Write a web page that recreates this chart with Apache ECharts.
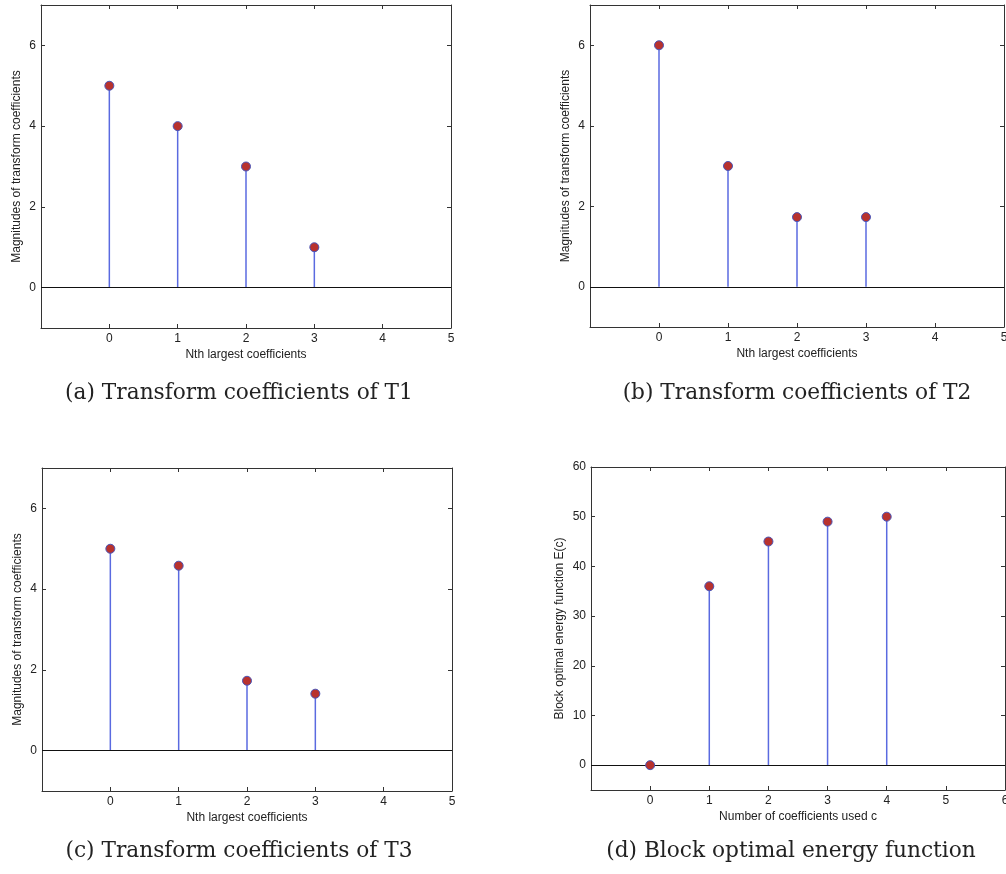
<!DOCTYPE html>
<html>
<head>
<meta charset="utf-8">
<script src="https://cdn.jsdelivr.net/npm/echarts@6/dist/echarts.min.js"></script>
<style>
  body { margin: 0; background: #fff; }
  #main { width: 1006px; height: 874px; }
</style>
</head>
<body>
<div id="main"></div>
<script>
var myChart = echarts.init(document.getElementById('main'));

// data
var xT = [0, 1, 2, 3];
var magT1 = [5, 4, 3, 1];
var magT2 = [6, 3, 1.73, 1.73];
var magT3 = [5, 4.58, 1.73, 1.41];
var xE = [0, 1, 2, 3, 4];
var energy = [0, 36, 45, 49, 50];

var xTicksT = [0, 1, 2, 3, 4, 5];
var yTicksT = [0, 2, 4, 6];
var xTicksE = [0, 1, 2, 3, 4, 5, 6];
var yTicksE = [0, 10, 20, 30, 40, 50, 60];

var captions = [
    '(a) Transform coefficients of T1',
    '(b) Transform coefficients of T2',
    '(c) Transform coefficients of T3',
    '(d) Block optimal energy function'
];

var panels = [
    {x: xT, y: magT1, xmin: -1, xmax: 5, ymin: -1, ymax: 7, xt: xTicksT, yt: yTicksT,
     xname: 'Nth largest coefficients', yname: 'Magnitudes of transform coefficients',
     grid: {left: 41, top: 5, width: 410, height: 323}},
    {x: xT, y: magT2, xmin: -1, xmax: 5, ymin: -1, ymax: 7, xt: xTicksT, yt: yTicksT,
     xname: 'Nth largest coefficients', yname: 'Magnitudes of transform coefficients',
     grid: {left: 590, top: 5, width: 414, height: 322}},
    {x: xT, y: magT3, xmin: -1, xmax: 5, ymin: -1, ymax: 7, xt: xTicksT, yt: yTicksT,
     xname: 'Nth largest coefficients', yname: 'Magnitudes of transform coefficients',
     grid: {left: 42, top: 468, width: 410, height: 323}},
    {x: xE, y: energy, xmin: -1, xmax: 6, ymin: -5, ymax: 60, xt: xTicksE, yt: yTicksE,
     xname: 'Number of coefficients used c', yname: 'Block optimal energy function E(c)',
     grid: {left: 591, top: 467, width: 414, height: 323}}
];

var grids = [], xAxes = [], yAxes = [], series = [];
var lab = {color: '#222', fontFamily: 'Liberation Sans', fontSize: 12};
var axLine = {show: true, onZero: false, lineStyle: {color: '#333', width: 1}};
var tick = function (vals) {
    return {inside: true, length: 4, customValues: vals, lineStyle: {color: '#333'}};
};

panels.forEach(function (p, i) {
    grids.push(Object.assign({outerBoundsMode: 'none'}, p.grid));
    var xi = xAxes.length, yi = yAxes.length;
    // bottom / top
    xAxes.push({
        type: 'value', gridIndex: i, position: 'bottom', min: p.xmin, max: p.xmax,
        name: p.xname, nameLocation: 'middle', nameGap: 21, nameTextStyle: lab,
        axisLine: axLine, splitLine: {show: false}, axisTick: tick(p.xt),
        axisLabel: Object.assign({customValues: p.xt, margin: 5}, lab)
    });
    xAxes.push({
        type: 'value', gridIndex: i, position: 'top', min: p.xmin, max: p.xmax,
        axisLine: axLine, splitLine: {show: false}, axisTick: tick(p.xt),
        axisLabel: {show: false}
    });
    // left / right
    yAxes.push({
        type: 'value', gridIndex: i, position: 'left', min: p.ymin, max: p.ymax,
        name: p.yname, nameLocation: 'middle', nameGap: i === 3 ? 25 : 18, nameTextStyle: lab,
        axisLine: axLine, splitLine: {show: false}, axisTick: tick(p.yt),
        axisLabel: Object.assign({customValues: p.yt, margin: 5}, lab)
    });
    yAxes.push({
        type: 'value', gridIndex: i, position: 'right', min: p.ymin, max: p.ymax,
        axisLine: axLine, splitLine: {show: false}, axisTick: tick(p.yt),
        axisLabel: {show: false}
    });

    var pts = p.x.map(function (v, k) { return [v, p.y[k]]; });
    // stems
    series.push({
        type: 'custom', xAxisIndex: xi, yAxisIndex: yi, data: pts, silent: true,
        renderItem: function (params, api) {
            var a = api.coord([api.value(0), 0]);
            var b = api.coord([api.value(0), api.value(1)]);
            return {type: 'line', shape: {x1: a[0], y1: a[1], x2: b[0], y2: b[1]},
                    style: {stroke: '#5a6ae0', lineWidth: 1.5}};
        },
        markLine: {
            silent: true, symbol: 'none', label: {show: false},
            lineStyle: {color: '#111', type: 'solid', width: 1.2},
            data: [{yAxis: 0}]
        }
    });
    // markers
    series.push({
        type: 'scatter', xAxisIndex: xi, yAxisIndex: yi, data: pts, symbolSize: 9,
        itemStyle: {color: '#b8322e', borderColor: '#4a55b8', borderWidth: 1, opacity: 1},
        z: 5
    });
});

var capPos = [[239, 393], [797, 393], [239, 851], [791, 851]];
var graphic = captions.map(function (t, i) {
    return {
        type: 'text', x: capPos[i][0], y: capPos[i][1],
        style: {text: t, font: '21.7px "DejaVu Serif"', fill: '#222',
                align: 'center', verticalAlign: 'middle'}
    };
});

option = {
    backgroundColor: '#fff',
    animation: false,
    grid: grids,
    xAxis: xAxes,
    yAxis: yAxes,
    series: series,
    graphic: graphic
};
myChart.setOption(option);
</script>
</body>
</html>
